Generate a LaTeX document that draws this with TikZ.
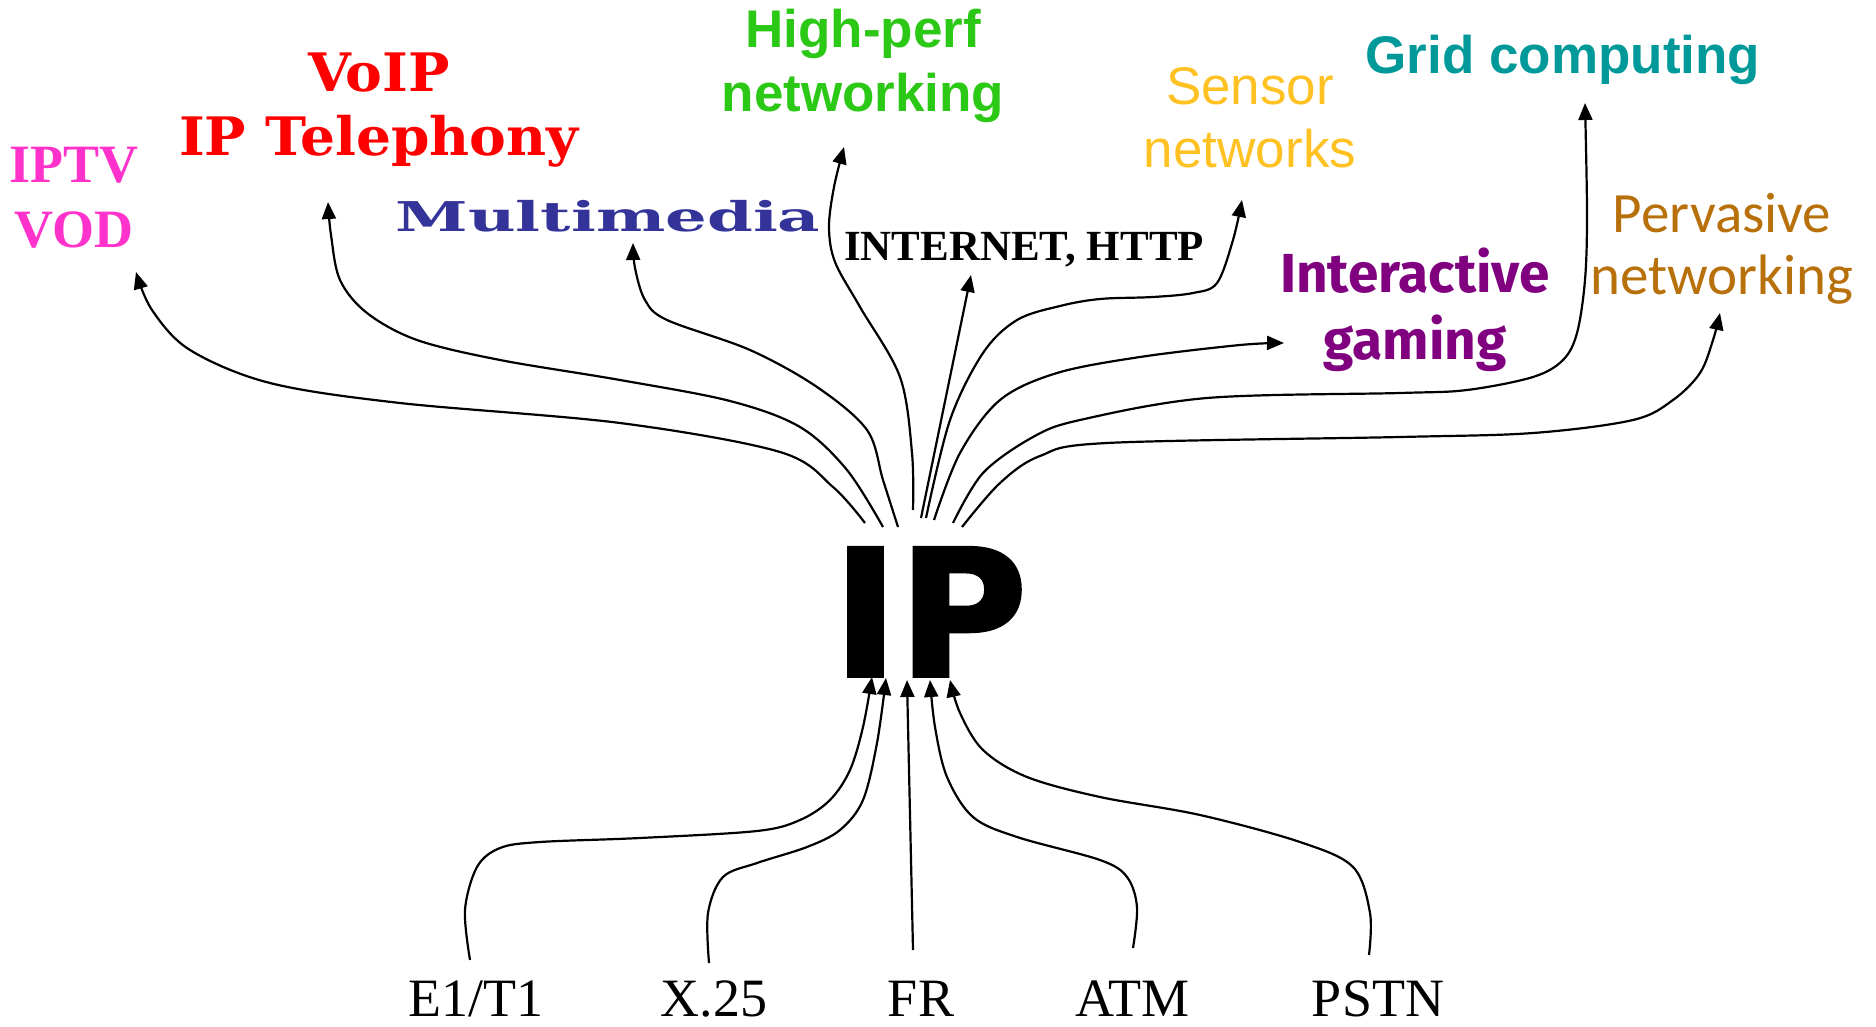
\documentclass[tikz,border=0pt]{standalone}
\usepackage{fontspec}
\usepackage{graphicx}
\usetikzlibrary{arrows.meta}
\newfontfamily\arialf{Liberation Sans}
\newfontfamily\timesf{Liberation Serif}
\newfontfamily\slabf{DejaVu Serif}
\newfontfamily\firaf{Fira Sans}
\newfontfamily\handf{Carlito}
\newfontfamily\ipf{DejaVu Sans}[UprightFont=* Bold, FakeBold=2]
\definecolor{iptvc}{HTML}{FF33CC}
\definecolor{voipc}{HTML}{FF0000}
\definecolor{mmc}{HTML}{333399}
\definecolor{hpc}{RGB}{44,200,22}
\definecolor{snc}{HTML}{FFC222}
\definecolor{gridc}{HTML}{009999}
\definecolor{igc}{HTML}{800080}
\definecolor{pnc}{HTML}{B8700A}
\begin{document}
\begin{tikzpicture}[x=1pt,y=-1pt,
  arr/.style={line width=2.2pt,-{Triangle[length=17pt,width=14pt]}},
  lbl/.style={inner sep=0pt, align=center},
  btm/.style={inner sep=0pt, anchor=base, font=\timesf\fontsize{54}{60}\selectfont}]
\useasboundingbox[fill=white] (0,0) rectangle (1876,1027);

% central node
\node[lbl, anchor=base, font=\ipf\fontsize{176}{176}\selectfont] (ip) at (930,676) {IP};

% upper labels
\node[lbl, text=iptvc, font=\timesf\bfseries\fontsize{54}{65}\selectfont] (iptv) at (74,198) {IPTV\\VOD};
\node[lbl, text=voipc, font=\slabf\bfseries\fontsize{53}{64}\selectfont] (voip) at (379,110) {\scalebox{1.04}[1]{VoIP}\\\scalebox{1.04}[1]{IP Telephony}};
\node[lbl, anchor=base, text=mmc, font=\slabf\bfseries\fontsize{41}{48}\selectfont] (mm) at (608,232) {\scalebox{1.6}[1]{Multimedia}};
\node[lbl, text=hpc, font=\arialf\bfseries\fontsize{53}{64}\selectfont] (hp) at (863,66) {High-perf\\networking};
\node[lbl, anchor=base, font=\timesf\bfseries\fontsize{43}{50}\selectfont] (inet) at (1024,260) {INTERNET, HTTP};
\node[lbl, text=snc, font=\arialf\fontsize{53}{63}\selectfont] (sn) at (1250,118) {Sensor\\networks};
\node[lbl, anchor=base, text=gridc, font=\arialf\bfseries\fontsize{53}{64}\selectfont] (grid) at (1563,74) {Grid computing};
\node[lbl, text=igc, font=\firaf\bfseries\fontsize{55}{67}\selectfont] (ig) at (1415,310) {Interactive\\gaming};
\node[lbl, text=pnc, font=\handf\fontsize{57}{62}\selectfont] (pn) at (1722,249) {Pervasive\\networking};

% bottom labels
\node[btm] (e1) at (476,1016) {E1/T1};
\node[btm] (x25) at (714,1016) {X.25};
\node[btm] (fr) at (921,1016) {FR};
\node[btm] (atm) at (1132,1016) {ATM};
\node[btm] (pstn) at (1378,1016) {PSTN};

% arrow end points
\coordinate (s1) at (865,523); \coordinate (t1) at (136,272);
\coordinate (s2) at (883,527); \coordinate (t2) at (328,202);
\coordinate (s3) at (898,527); \coordinate (t3) at (633,243);
\coordinate (s4) at (913,510); \coordinate (t4) at (844,147);
\coordinate (s5) at (921,518); \coordinate (t5) at (971,275);
\coordinate (s6) at (926,518); \coordinate (t6) at (1242,200);
\coordinate (s7) at (934,520); \coordinate (t7) at (1284,343);
\coordinate (s8) at (953,523); \coordinate (t8) at (1585,103);
\coordinate (s9) at (962,527); \coordinate (t9) at (1720,313);

\coordinate (b1) at (470,960); \coordinate (u1) at (872,677);
\coordinate (b2) at (709,963); \coordinate (u2) at (886,678);
\coordinate (b3) at (913,950); \coordinate (u3) at (907,680);
\coordinate (b4) at (1133,948); \coordinate (u4) at (930,680);
\coordinate (b5) at (1369,955); \coordinate (u5) at (950,680);

% upper connectors
\draw[arr] plot[smooth,tension=0.55] coordinates {(s1) (833,487) (780,452) (620,423) (400,403) (270,383) (190,350) (152,310) (t1)};
\draw[arr] plot[smooth,tension=0.55] coordinates {(s2) (847,470) (800,427) (730,401) (620,380) (500,360) (417,340) (367,313) (340,280) (331,235) (t2)};
\draw[arr] plot[smooth,tension=0.55] coordinates {(s3) (883,480) (867,430) (817,387) (750,350) (667,320) (645,300) (635,268) (t3)};
\draw[arr] plot[smooth,tension=0.55] coordinates {(s4) (912,453) (900,377) (860,307) (835,262) (829,227) (834,187) (t4)};
\draw[arr] (s5) -- (t5);
\draw[arr] plot[smooth,tension=0.55] coordinates {(s6) (950,420) (983,353) (1017,320) (1060,306) (1100,299) (1153,297) (1193,293) (1217,283) (1233,240) (t6)};
\draw[arr] plot[smooth,tension=0.55] coordinates {(s7) (960,453) (1000,400) (1057,373) (1140,357) (1240,345) (t7)};
\draw[arr] plot[smooth,tension=0.55] coordinates {(s8) (983,473) (1033,437) (1080,420) (1207,398) (1400,393) (1467,390) (1533,377) (1563,360) (1577,333) (1585,280) (1587,213) (t8)};
\draw[arr] plot[smooth,tension=0.55] coordinates {(s9) (1000,483) (1040,456) (1107,443) (1400,437) (1533,433) (1633,420) (1673,400) (1700,373) (1713,340) (t9)};

% lower connectors
\draw[arr] plot[smooth,tension=0.55] coordinates {(b1) (465,910) (477,867) (500,848) (540,842) (640,838) (757,831) (800,820) (830,800) (850,770) (863,727) (u1)};
\draw[arr] plot[smooth,tension=0.55] coordinates {(b2) (708,913) (723,877) (757,863) (807,847) (840,830) (863,800) (877,743) (u2)};
\draw[arr] (b3) -- (u3);
\draw[arr] plot[smooth,tension=0.55] coordinates {(b4) (1137,907) (1127,877) (1100,860) (1017,837) (973,817) (947,777) (935,727) (u4)};
\draw[arr] plot[smooth,tension=0.55] coordinates {(b5) (1370,913) (1353,867) (1300,842) (1200,815) (1100,797) (1027,777) (983,750) (960,713) (u5)};
\end{tikzpicture}
\end{document}
